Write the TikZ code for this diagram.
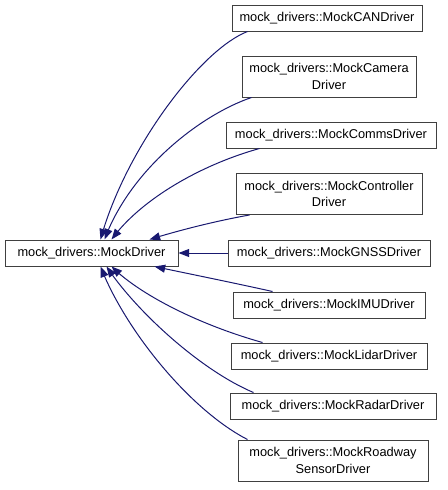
\documentclass[tikz,border=0pt]{standalone}
\usepackage{fontspec}
\setmainfont{Liberation Sans}
\usetikzlibrary{arrows.meta,calc,bending}
\definecolor{edgeblue}{HTML}{191970}
\definecolor{boxline}{HTML}{404040}
\begin{document}
\begin{tikzpicture}[x=0.75pt,y=-0.75pt,
  box/.style={draw=boxline, line width=0.75pt, fill=white, inner sep=0pt,
    minimum height=19.5pt, align=center, font=\fontsize{9.6}{12.5}\selectfont},
  wbox/.style={box, minimum width=#1*0.75pt},
  tall/.style={minimum height=30.75pt},
  edge/.style={draw=edgeblue, line width=0.75pt,
    -{Triangle[length=8pt,width=6pt,flex]}}]
\useasboundingbox (0,0) rectangle (448,490);

\node[wbox=173] (base) at (91.5,253) {mock\_drivers::MockDriver};
\node[wbox=190] (can) at (327,18) {mock\_drivers::MockCANDriver};
\node[wbox=174,tall] (cam) at (329,76.5) {mock\_drivers::MockCamera\\Driver};
\node[wbox=210] (comms) at (331,135) {mock\_drivers::MockCommsDriver};
\node[wbox=186,tall] (ctrl) at (329,194) {mock\_drivers::MockController\\Driver};
\node[wbox=202] (gnss) at (329,253) {mock\_drivers::MockGNSSDriver};
\node[wbox=192] (imu) at (329,305) {mock\_drivers::MockIMUDriver};
\node[wbox=196] (lidar) at (329,356) {mock\_drivers::MockLidarDriver};
\node[wbox=206] (radar) at (333,406) {mock\_drivers::MockRadarDriver};
\node[wbox=190,tall] (road) at (333,460.5) {mock\_drivers::MockRoadway\\SensorDriver};

\draw[edge] ($(can.south west)+(16,0)$) .. controls (200,50) and (125,150) .. ($(base.north west)+(96,0)$);
\draw[edge] ($(cam.south west)+(10,0)$) .. controls (200,115) and (130,170) .. ($(base.north west)+(100,0)$);
\draw[edge] ($(comms.south west)+(34,0)$) .. controls (200,165) and (140,200) .. ($(base.north west)+(107,0)$);
\draw[edge] ($(ctrl.south west)+(14,0)$) .. controls (210,222) and (170,233) .. ($(base.north west)+(145,0)$);
\draw[edge] (gnss.west) -- (base.east);
\draw[edge] ($(imu.north west)+(40,0)$) .. controls (230,282) and (180,272) .. ($(base.south west)+(150,0)$);
\draw[edge] ($(lidar.north west)+(32,0)$) .. controls (200,325) and (140,295) .. ($(base.south west)+(107,0)$);
\draw[edge] ($(radar.north west)+(24,0)$) .. controls (200,370) and (135,310) .. ($(base.south west)+(102,0)$);
\draw[edge] ($(road.north west)+(10,0)$) .. controls (190,410) and (125,330) .. ($(base.south west)+(96,0)$);
\end{tikzpicture}
\end{document}
